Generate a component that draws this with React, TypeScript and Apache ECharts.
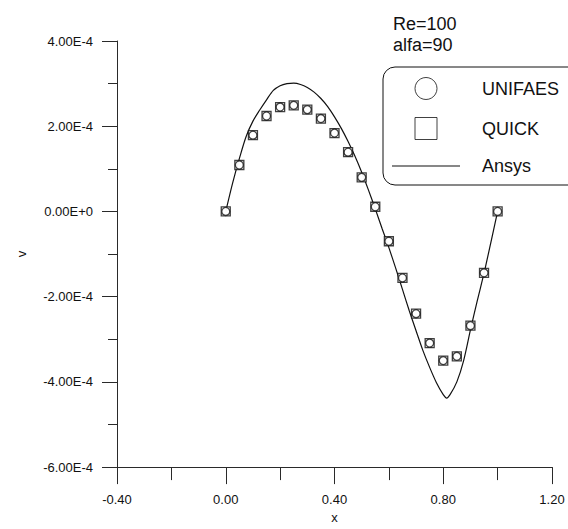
import React, { useEffect, useRef } from "react";
import * as echarts from "echarts";

// Sample positions along x for the two numerical schemes
const markerX = [0, 0.05, 0.1, 0.15, 0.2, 0.25, 0.3, 0.35, 0.4, 0.45, 0.5, 0.55, 0.6, 0.65, 0.7, 0.75, 0.8, 0.85, 0.9, 0.95, 1.0];
const unifaesV = [0, 1.09e-4, 1.79e-4, 2.24e-4, 2.45e-4, 2.49e-4, 2.39e-4, 2.18e-4, 1.84e-4, 1.39e-4, 0.8e-4, 0.11e-4, -0.7e-4, -1.56e-4, -2.4e-4, -3.09e-4, -3.5e-4, -3.4e-4, -2.68e-4, -1.44e-4, 0];
const quickV = [0, 1.09e-4, 1.79e-4, 2.24e-4, 2.45e-4, 2.49e-4, 2.39e-4, 2.18e-4, 1.84e-4, 1.39e-4, 0.8e-4, 0.11e-4, -0.7e-4, -1.56e-4, -2.4e-4, -3.09e-4, -3.5e-4, -3.4e-4, -2.68e-4, -1.44e-4, 0];

// Reference solution profile
const ansysX = [0, 0.025, 0.05, 0.075, 0.1, 0.125, 0.15, 0.175, 0.2, 0.225, 0.25, 0.275, 0.3, 0.325, 0.35, 0.375, 0.4, 0.425, 0.45, 0.475, 0.5, 0.525, 0.55, 0.575, 0.6, 0.625, 0.65, 0.675, 0.7, 0.725, 0.75, 0.775, 0.8, 0.8125, 0.825, 0.85, 0.875, 0.9, 0.925, 0.95, 0.975, 1.0];
const ansysV = [0, 0.66e-4, 1.24e-4, 1.76e-4, 2.12e-4, 2.38e-4, 2.62e-4, 2.84e-4, 2.95e-4, 3.0e-4, 3.01e-4, 2.98e-4, 2.91e-4, 2.8e-4, 2.65e-4, 2.46e-4, 2.22e-4, 1.95e-4, 1.64e-4, 1.3e-4, 0.92e-4, 0.5e-4, 0.06e-4, -0.4e-4, -0.85e-4, -1.33e-4, -1.83e-4, -2.33e-4, -2.8e-4, -3.26e-4, -3.66e-4, -4.02e-4, -4.3e-4, -4.38e-4, -4.3e-4, -4.0e-4, -3.5e-4, -2.78e-4, -2.1e-4, -1.45e-4, -0.73e-4, 0];

const seriesNames = ["UNIFAES", "QUICK", "Ansys"];
const annotations = ["Re=100", "alfa=90"];

const FONT = "'Liberation Sans', Arial, Helvetica, sans-serif";
const INK = "#111111";
const AXIS = "#2a2a2a";

function formatV(value: number): string {
  if (Math.abs(value) < 1e-12) return "0.00E+0";
  return (value / 1e-4).toFixed(2) + "E-4";
}

export default function App() {
  const ref = useRef<HTMLDivElement>(null);

  useEffect(() => {
    if (!ref.current) return;
    const chart = echarts.init(ref.current, undefined, { renderer: "svg" });

    const pairs = (xs: number[], ys: number[]) => xs.map((x, i) => [x, ys[i]]);
    const markerStyle = { color: "#ffffff", borderColor: "#111", borderWidth: 1.3 };

    chart.setOption({
      animation: false,
      backgroundColor: "#ffffff",
      textStyle: { fontFamily: FONT, color: INK },
      grid: { left: 117, right: 16, top: 41, bottom: 56, containLabel: false },
      xAxis: {
        type: "value",
        min: -0.4,
        max: 1.2,
        interval: 0.4,
        name: "x",
        nameLocation: "middle",
        nameGap: 41,
        nameTextStyle: { fontSize: 13, color: INK, fontFamily: FONT },
        axisLine: { show: true, onZero: false, lineStyle: { color: AXIS, width: 1 } },
        axisTick: { show: true, length: 17, lineStyle: { color: AXIS } },
        minorTick: { show: true, splitNumber: 2, length: 13, lineStyle: { color: AXIS } },
        splitLine: { show: false },
        axisLabel: {
          fontSize: 13,
          color: INK,
          margin: 26,
          formatter: (v: number) => v.toFixed(2),
        },
      },
      yAxis: {
        type: "value",
        min: -6e-4,
        max: 4e-4,
        interval: 2e-4,
        name: "v",
        nameLocation: "middle",
        nameGap: 89,
        nameRotate: 90,
        nameTextStyle: { fontSize: 13, color: INK, fontFamily: FONT },
        axisLine: { show: true, onZero: false, lineStyle: { color: AXIS, width: 1 } },
        axisTick: { show: true, length: 15, lineStyle: { color: AXIS } },
        minorTick: { show: true, splitNumber: 2, length: 9, lineStyle: { color: AXIS } },
        splitLine: { show: false },
        axisLabel: {
          fontSize: 13,
          color: INK,
          margin: 24,
          formatter: formatV,
        },
      },
      legend: {
        orient: "vertical",
        left: 383,
        top: 67,
        padding: [10, 30, 10, 9],
        itemWidth: 68,
        itemHeight: 22,
        itemGap: 17,
        backgroundColor: "#ffffff",
        borderColor: "#111",
        borderWidth: 1,
        borderRadius: 12,
        itemStyle: { borderWidth: 1, borderColor: "#111", color: "#ffffff" },
        data: [
          { name: seriesNames[0], icon: "circle" },
          { name: seriesNames[1], icon: "path://M0,0H10V10H0Z" },
          {
            name: seriesNames[2],
            icon: "path://M0,0H68V1H0Z",
            itemStyle: { color: "#111", borderWidth: 0 },
          },
        ],
        textStyle: { fontSize: 18, color: INK, fontFamily: FONT, padding: [0, 0, 0, 17] },
      },
      graphic: [
        {
          type: "text",
          x: 393,
          y: 24,
          style: { text: annotations[0], fontSize: 18, fontFamily: FONT, fill: INK, verticalAlign: "middle" },
        },
        {
          type: "text",
          x: 393,
          y: 45,
          style: { text: annotations[1], fontSize: 18, fontFamily: FONT, fill: INK, verticalAlign: "middle" },
        },
      ],
      series: [
        {
          name: seriesNames[2],
          type: "line",
          data: pairs(ansysX, ansysV),
          smooth: 0.3,
          symbol: "none",
          lineStyle: { color: "#111", width: 1.2 },
          itemStyle: { color: "#111" },
          z: 2,
        },
        {
          name: seriesNames[1],
          type: "scatter",
          data: pairs(markerX, quickV),
          symbol: "rect",
          symbolSize: 9,
          itemStyle: markerStyle,
          z: 3,
        },
        {
          name: seriesNames[0],
          type: "scatter",
          data: pairs(markerX, unifaesV),
          symbol: "circle",
          symbolSize: 8,
          itemStyle: markerStyle,
          z: 4,
        },
      ],
    });

    return () => chart.dispose();
  }, []);

  return (
    <div
      ref={ref}
      style={{ position: "fixed", left: 0, top: 0, width: 568, height: 529, background: "#fff" }}
    />
  );
}
